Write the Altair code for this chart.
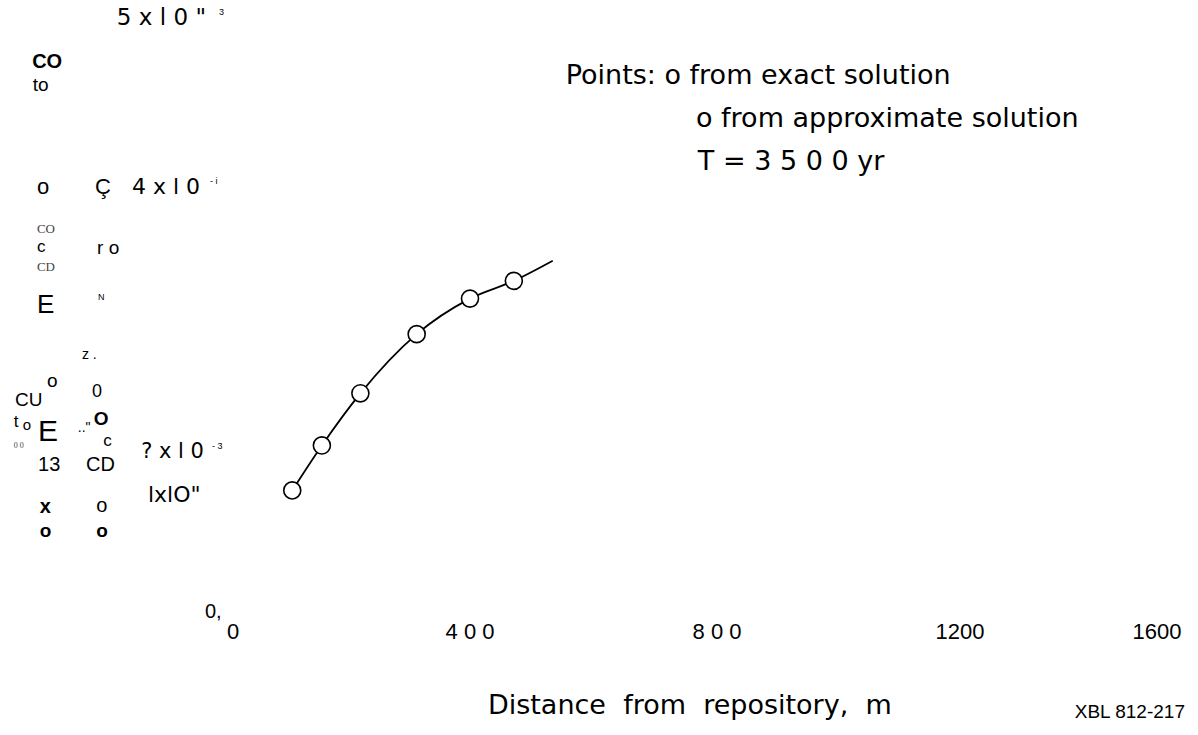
import altair as alt
import pandas as pd

# ---- data (distance in m, concentration in units of 1e-3) ----
dist_points = [100, 150, 215, 310, 400, 471]
conc_points = [1.01, 1.39, 1.83, 2.33, 2.63, 2.78]
dist_curve = [100, 150, 215, 310, 400, 471, 534]
conc_curve = [1.01, 1.39, 1.83, 2.33, 2.63, 2.78, 2.95]

x_ticks = [0, 400, 800, 1200, 1600]
x_tick_labels = ["0", "4 0 0", "8 0 0", "1200", "1600"]

NB = "\u00a0"

# ---- scanned (garbled) annotation texts, placed in data units ----
# regular sans
ann_text = ["3", "to", "o", "Ç", "-  i",
            "c", "r o", "E", "N", "z  .", "CU", "0", "o", "t", "o", "E", '.."',
            "c", "13", "CD", "-  3", "o", "0,"]
ann_x = [-23.6, -338, -331, -233, -38.8,
         -331, -229.5, -331, -228, -255, -368, -238, -314, -370, -355, -329, -262,
         -219, -329, -248, -35.4, -231, -47.3]
ann_y = [5.05, 4.43, 3.57, 3.57, 3.62,
         3.07, 3.06, 2.58, 2.64, 2.15, 1.77, 1.84, 1.93, 1.59, 1.56, 1.50, 1.54,
         1.43, 1.225, 1.225, 1.385, 0.88, -0.017]
ann_size = [9, 19, 22, 22, 9,
            17, 19, 26, 9, 14, 19, 18, 19, 17, 15, 30, 14,
            17, 20, 20, 9, 20, 20]

# wide "n x 10^-3" style labels
wide_text = ['5 x l 0 "', "4 x l 0", "? x l 0", 'lxlO"']
wide_x = [-196, -170.5, -155, -143.5]
wide_y = [5.0, 3.57, 1.334, 0.971]
wide_size = [23, 22, 21, 22]

bold_text = ["CO", "O", "x", "o", "o"]
bold_x = [-339, -235, -326, -326, -231]
bold_y = [4.63, 1.61, 0.87, 0.67, 0.67]
bold_size = [20, 19, 20, 19, 19]

serif_text = ["CO", "CD", "0 0"]
serif_x = [-331, -331, -370]
serif_y = [3.22, 2.90, 1.385]
serif_size = [13, 13, 8]

legend_text = ["Points: o from exact solution", "o from approximate solution",
               "T = 3 5 0 0 yr"]
legend_x = [555, 766, 769]
legend_y = [4.51, 4.147, 3.784]

title_text = ["Distance" + NB * 2 + "from" + NB * 2 + "repository," + NB * 2 + "m"]
title_x = [756]
title_y = [-0.811]

code_text = ["XBL 812-217"]
code_x = [1433]
code_y = [-0.861]

FONT = "Liberation Sans"
WIDE = "DejaVu Sans"

xs = alt.Scale(domain=[0, 400, 800, 1200, 1600],
               range=[233, 470, 717, 960, 1157], zero=False, nice=False)
ys = alt.Scale(domain=[0, 5], range=[610, 18], zero=False, nice=False)


def X(f="x"):
    return alt.X(f + ":Q", scale=xs, axis=None)


def Y(f="y"):
    return alt.Y(f + ":Q", scale=ys, axis=None)


curve_df = pd.DataFrame({"x": dist_curve, "y": conc_curve})
pts_df = pd.DataFrame({"x": dist_points, "y": conc_points})

line = alt.Chart(curve_df).mark_line(
    color="black", strokeWidth=1.8, interpolate="monotone"
).encode(x=X(), y=Y())

pts = alt.Chart(pts_df).mark_point(
    shape="circle", filled=True, fill="white", stroke="black",
    strokeWidth=1.6, size=290, opacity=1
).encode(x=X(), y=Y())


def text_layer(texts, xv, yv, sizes=None, fixed_size=None, **kw):
    d = {"t": texts, "x": xv, "y": yv}
    if sizes is not None:
        d["s"] = sizes
    df = pd.DataFrame(d)
    mk = dict(font=FONT, color="black", align="left", baseline="middle")
    mk.update(kw)
    if fixed_size is not None:
        mk["fontSize"] = fixed_size
    enc = dict(x=X(), y=Y(), text="t:N")
    if sizes is not None:
        enc["size"] = alt.Size("s:Q", scale=None, legend=None)
    return alt.Chart(df).mark_text(**mk).encode(**enc)


ann = text_layer(ann_text, ann_x, ann_y, sizes=ann_size)
wide = text_layer(wide_text, wide_x, wide_y, sizes=wide_size, font=WIDE)
bold = text_layer(bold_text, bold_x, bold_y, sizes=bold_size, fontWeight="bold")
serif = text_layer(serif_text, serif_x, serif_y, sizes=serif_size,
                   font="Liberation Serif", color="#444444")
legend = text_layer(legend_text, legend_x, legend_y, fixed_size=27, font=WIDE)
title = text_layer(title_text, title_x, title_y, fixed_size=27, font=WIDE,
                   align="center")
code = text_layer(code_text, code_x, code_y, fixed_size=19)

tick_df = pd.DataFrame({"x": x_ticks, "t": x_tick_labels,
                        "y": [-0.19] * len(x_ticks)})
ticks = alt.Chart(tick_df).mark_text(
    font=FONT, fontSize=22, color="black", align="center", baseline="middle"
).encode(x=X(), y=Y(), text="t:N")

chart = alt.layer(line, pts, ann, wide, bold, serif, legend, title, code, ticks).properties(
    width=1198, height=735, padding=0, autosize="none", background="white"
).configure_view(stroke=None)

chart.save("out.html", embed_options={"renderer": "svg", "actions": False})
